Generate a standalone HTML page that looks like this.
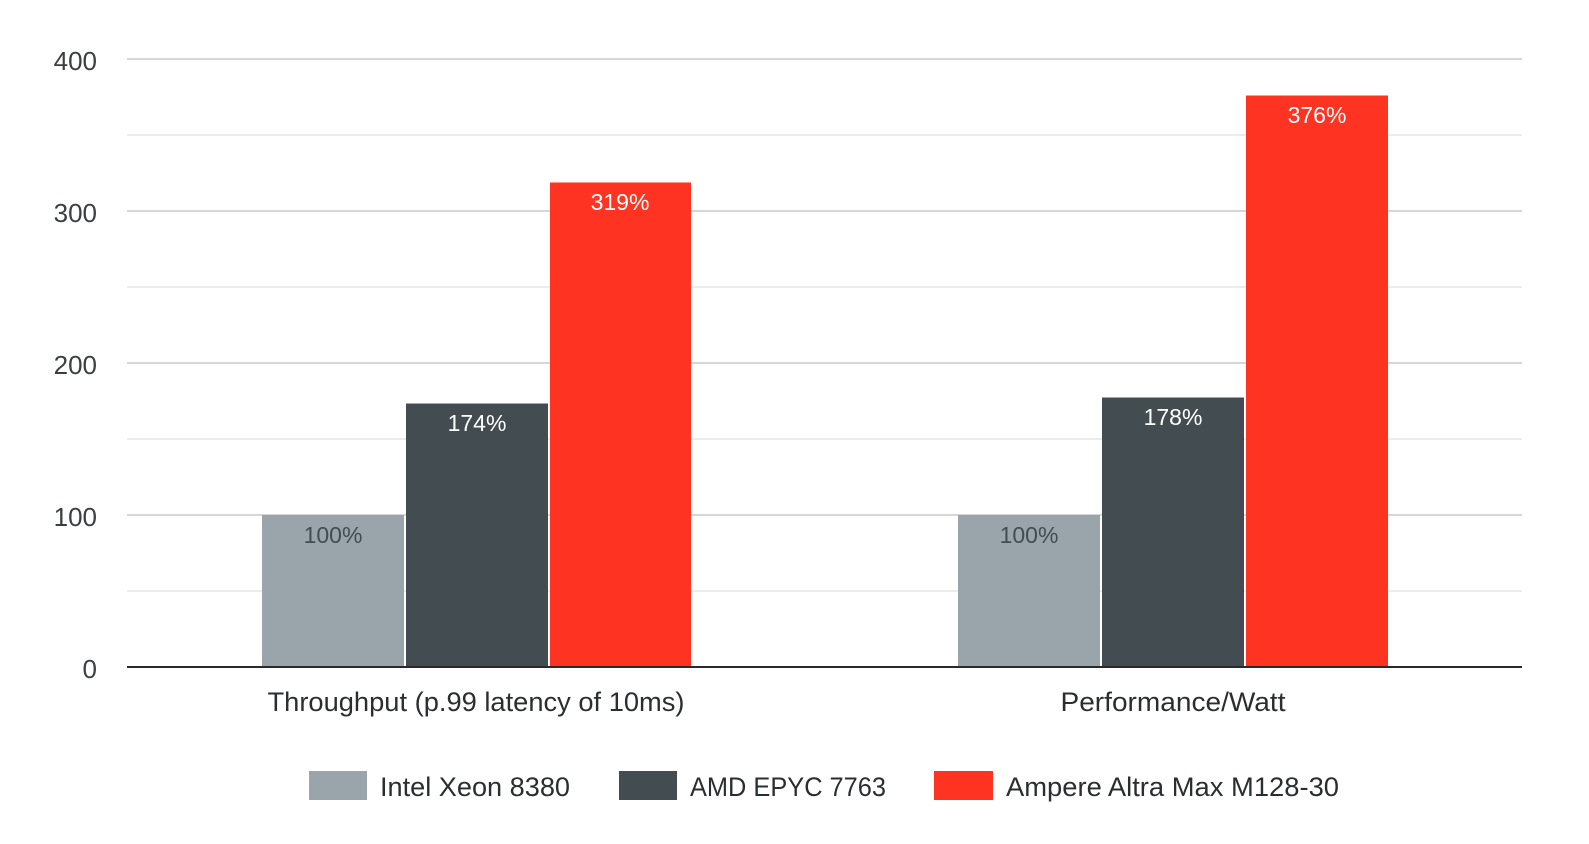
<!DOCTYPE html>
<html><head><style>
html,body{margin:0;padding:0;background:#fff;}
svg{display:block;font-family:"Liberation Sans",sans-serif;}
</style></head><body>
<svg width="1589" height="844" viewBox="0 0 1589 844" xmlns="http://www.w3.org/2000/svg">
<g stroke="#e6e6e6" stroke-width="1.5">
<line x1="127" x2="1522" y1="135" y2="135"/>
<line x1="127" x2="1522" y1="287" y2="287"/>
<line x1="127" x2="1522" y1="439" y2="439"/>
<line x1="127" x2="1522" y1="591" y2="591"/>
</g>
<g stroke="#c8c8c8" stroke-width="1.5">
<line x1="127" x2="1522" y1="59" y2="59"/>
<line x1="127" x2="1522" y1="211" y2="211"/>
<line x1="127" x2="1522" y1="363" y2="363"/>
<line x1="127" x2="1522" y1="515" y2="515"/>
</g>
<g font-size="26" fill="#3a3f42" text-anchor="end">
<text x="97" y="70">400</text>
<text x="97" y="222">300</text>
<text x="97" y="374">200</text>
<text x="97" y="526">100</text>
<text x="97" y="678">0</text>
</g>
<rect x="262" y="515" width="142" height="152" fill="#99a5ab"/>
<rect x="406" y="403.5" width="142" height="263.5" fill="#434c51"/>
<rect x="550" y="182.5" width="141" height="484.5" fill="#ff3322"/>
<rect x="958" y="515" width="142" height="152" fill="#99a5ab"/>
<rect x="1102" y="397.5" width="142" height="269.5" fill="#434c51"/>
<rect x="1246" y="95.5" width="142" height="571.5" fill="#ff3322"/>
<line x1="127" x2="1522" y1="667" y2="667" stroke="#2a2a2a" stroke-width="2"/>
<g font-size="23" text-anchor="middle">
<text x="333" y="543" fill="#434c51">100%</text>
<text x="477" y="431" fill="#fff">174%</text>
<text x="620" y="210" fill="#fff">319%</text>
<text x="1029" y="543" fill="#434c51">100%</text>
<text x="1173" y="425" fill="#fff">178%</text>
<text x="1317" y="123" fill="#fff">376%</text>
</g>
<g font-size="27" fill="#2a2e30" text-anchor="middle">
<text x="476" y="711" textLength="417" lengthAdjust="spacingAndGlyphs">Throughput (p.99 latency of 10ms)</text>
<text x="1173" y="711" textLength="225" lengthAdjust="spacingAndGlyphs">Performance/Watt</text>
</g>
<rect x="309" y="771" width="58" height="29" fill="#99a5ab"/>
<rect x="619" y="771" width="58" height="29" fill="#434c51"/>
<rect x="934" y="771" width="59" height="29" fill="#ff3322"/>
<g font-size="27" fill="#2a2e30">
<text x="380" y="796" textLength="190" lengthAdjust="spacingAndGlyphs">Intel Xeon 8380</text>
<text x="690" y="796" textLength="196" lengthAdjust="spacingAndGlyphs">AMD EPYC 7763</text>
<text x="1006" y="796" textLength="333" lengthAdjust="spacingAndGlyphs">Ampere Altra Max M128-30</text>
</g>
</svg>
</body></html>
